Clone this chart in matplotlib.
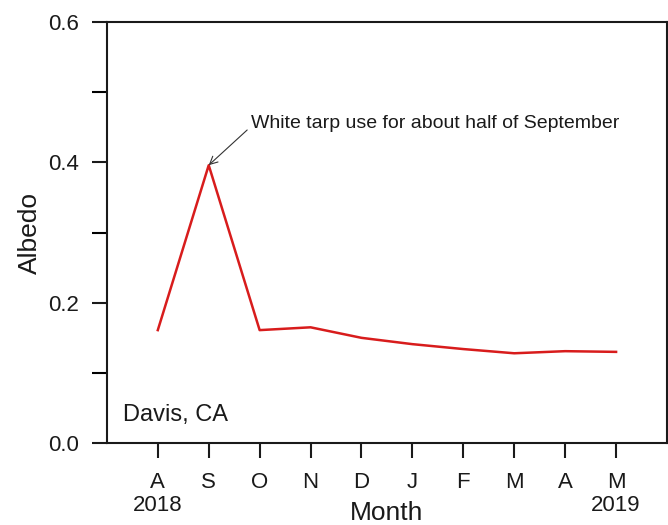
import numpy as np
import matplotlib.pyplot as plt

plt.rcParams['font.family'] = ['Liberation Sans', 'DejaVu Sans']

# monthly albedo, Aug 2018 - May 2019
months = ["A\n2018", "S", "O", "N", "D", "J", "F", "M", "A", "M\n2019"]
albedo = [0.161, 0.396, 0.161, 0.165, 0.150, 0.141, 0.134, 0.128, 0.131, 0.130]

fig = plt.figure(figsize=(6.68, 5.25), dpi=100)
ax = fig.add_axes([0.160, 0.156, 0.8385, 0.802])

x = np.arange(len(months))
ax.plot(x, albedo, color="#d81c1c", lw=1.8)

ax.set_xlim(-1, 10)
ax.set_ylim(0, 0.6)
ax.set_xticks(x)
ax.set_xticklabels(months, fontsize=16, va="top", linespacing=1.1)
ax.set_yticks([0.0, 0.2, 0.4, 0.6])
ax.set_yticklabels(["0.0", "0.2", "0.4", "0.6"], fontsize=16)
ax.set_yticks([0.1, 0.3, 0.5], minor=True)
ax.tick_params(axis="both", which="both", direction="out", length=11, width=1.5, pad=9)
ax.tick_params(axis="x", pad=10)
ax.tick_params(colors="#1a1a1a")
for s in ax.spines.values():
    s.set_linewidth(1.5)
    s.set_color("#1a1a1a")

ax.set_ylabel("Albedo", fontsize=19, va="center", color="#1a1a1a")
ax.yaxis.set_label_coords(-0.1375, 0.5)
ax.set_xlabel("Month", fontsize=19, va="top", color="#1a1a1a")
ax.xaxis.set_label_coords(0.5, -0.138)

ax.annotate("White tarp use for about half of September",
            xy=(1, 0.396), xytext=(1.83, 0.456),
            fontsize=14, va="center", ha="left", color="#1a1a1a",
            arrowprops=dict(arrowstyle="->", color="#333333", lw=0.8,
                            relpos=(0, 0.3), shrinkA=1, shrinkB=0))
ax.text(0.029, 0.066, "Davis, CA", transform=ax.transAxes, fontsize=17,
        va="center", ha="left", color="#1a1a1a")

fig.savefig("out.png", dpi=100)
